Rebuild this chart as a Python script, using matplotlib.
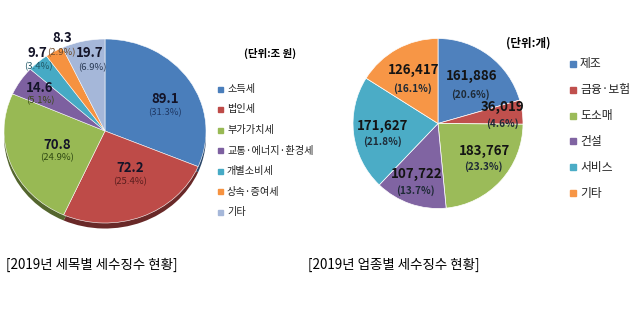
import matplotlib
matplotlib.use("Agg")
import matplotlib.pyplot as plt
from matplotlib.colors import to_rgb

plt.rcParams['font.family'] = ['Noto Sans CJK KR', 'DejaVu Sans']

W, H = 639, 326

# --- left pie: tax collection by tax item (unit: trillion won) ---
tax_names = ["소득세", "법인세", "부가가치세", "교통·에너지·환경세", "개별소비세", "상속·증여세", "기타"]
tax_values = [89.1, 72.2, 70.8, 14.6, 9.7, 8.3, 19.7]
tax_pcts = ["(31.3%)", "(25.4%)", "(24.9%)", "(5.1%)", "(3.4%)", "(2.9%)", "(6.9%)"]
tax_colors = ["#4A7EBB", "#BE4B48", "#98B954", "#7D60A0", "#46AAC5", "#F69240", "#A5B7D9"]
tax_pct_colors = ["#1F3864", "#5A1E1E", "#2F4A12", "#3A4A18", "#215968", "#6B4A2A", "#2A3A55"]
# label anchors (pixel coords of value text, pct text)
tax_val_pos = [(165, 99), (130, 168), (57, 145), (40, 88), (37, 53), (62, 38), (90, 53)]
tax_pct_pos = [(165, 113), (130, 182), (57, 158), (40, 101), (38, 67), (61, 53), (92, 68)]

# --- right pie: tax collection by industry (unit: count) ---
ind_names = ["제조", "금융·보험", "도소매", "건설", "서비스", "기타"]
ind_values = [161886, 36019, 183767, 107722, 171627, 126417]
ind_pcts = ["(20.6%)", "(4.6%)", "(23.3%)", "(13.7%)", "(21.8%)", "(16.1%)"]
ind_colors = ["#4F81BD", "#C0504D", "#9BBB59", "#8064A2", "#4BACC6", "#F79646"]
ind_val_pos = [(472, 76), (503, 107), (485, 151), (417, 174), (383, 126), (414, 70)]
ind_pct_pos = [(470, 95), (502, 124), (483, 167), (415, 191), (383, 142), (413, 89)]


def px_axes(fig, cx, cy, rx, ry):
    return fig.add_axes([(cx - rx) / W, 1 - (cy + ry) / H, 2 * rx / W, 2 * ry / H])


def ftxt(fig, x, y, s, **kw):
    fig.text(x / W, 1 - y / H, s, **kw)


def darker(c, f=0.55):
    r, g, b = to_rgb(c)
    return (r * f, g * f, b * f)


fig = plt.figure(figsize=(W / 100, H / 100), dpi=100)

# left pie (slightly tilted, with a dark rim underneath)
ax1 = px_axes(fig, 105, 131, 101, 92)
ax1.pie(tax_values, colors=[darker(c) for c in tax_colors], startangle=90,
        counterclock=False, center=(0, -0.06), radius=1.0,
        wedgeprops=dict(linewidth=0))
ax1.pie(tax_values, colors=tax_colors, startangle=90, counterclock=False,
        radius=1.0, wedgeprops=dict(edgecolor="white", linewidth=0.4))
ax1.set_xlim(-1, 1); ax1.set_ylim(-1.0, 1.0); ax1.set_aspect("auto"); ax1.axis("off")

for v, p, vp, pp, pc in zip(tax_values, tax_pcts, tax_val_pos, tax_pct_pos, tax_pct_colors):
    ftxt(fig, *vp, f"{v:.1f}", ha="center", va="center", fontsize=9.5,
         fontweight="bold", color="#141428")
    ftxt(fig, *pp, p, ha="center", va="center", fontsize=6.8, color=pc)

ftxt(fig, 270, 53, "(단위:조 원)", ha="center", va="center", fontsize=7.5, fontweight="bold")
for i, (n, c) in enumerate(zip(tax_names, tax_colors)):
    y = 89 + i * 20.5
    fig.patches.append(plt.Rectangle(((220 - 2) / W, 1 - (y + 2.5) / H), 5 / W, 5 / H,
                                     transform=fig.transFigure, color=c))
    ftxt(fig, 227, y, n, ha="left", va="center", fontsize=7.3, color="#222222")

# right pie
ax2 = px_axes(fig, 438, 123.5, 85, 85)
ax2.pie(ind_values, colors=ind_colors, startangle=90, counterclock=False,
        wedgeprops=dict(edgecolor="white", linewidth=0.5))
ax2.set_xlim(-1, 1); ax2.set_ylim(-1, 1); ax2.set_aspect("auto"); ax2.axis("off")

for v, p, vp, pp in zip(ind_values, ind_pcts, ind_val_pos, ind_pct_pos):
    ftxt(fig, *vp, f"{v:,}", ha="center", va="center", fontsize=9.6,
         fontweight="bold", color="#141414")
    ftxt(fig, *pp, p, ha="center", va="center", fontsize=7.2,
         fontweight="bold", color="#1E2A36")

ftxt(fig, 528, 43, "(단위:개)", ha="center", va="center", fontsize=8.3, fontweight="bold")
for i, (n, c) in enumerate(zip(ind_names, ind_colors)):
    y = 64 + i * 25.8
    fig.patches.append(plt.Rectangle(((573 - 3) / W, 1 - (y + 3) / H), 6 / W, 6 / H,
                                     transform=fig.transFigure, color=c))
    ftxt(fig, 580, y, n, ha="left", va="center", fontsize=8.5, color="#222222")

# captions
ftxt(fig, 6, 265, "[2019년 세목별 세수징수 현황]", ha="left", va="center", fontsize=9.7)
ftxt(fig, 308, 265, "[2019년 업종별 세수징수 현황]", ha="left", va="center", fontsize=9.7)

fig.savefig("out.png", dpi=100)
